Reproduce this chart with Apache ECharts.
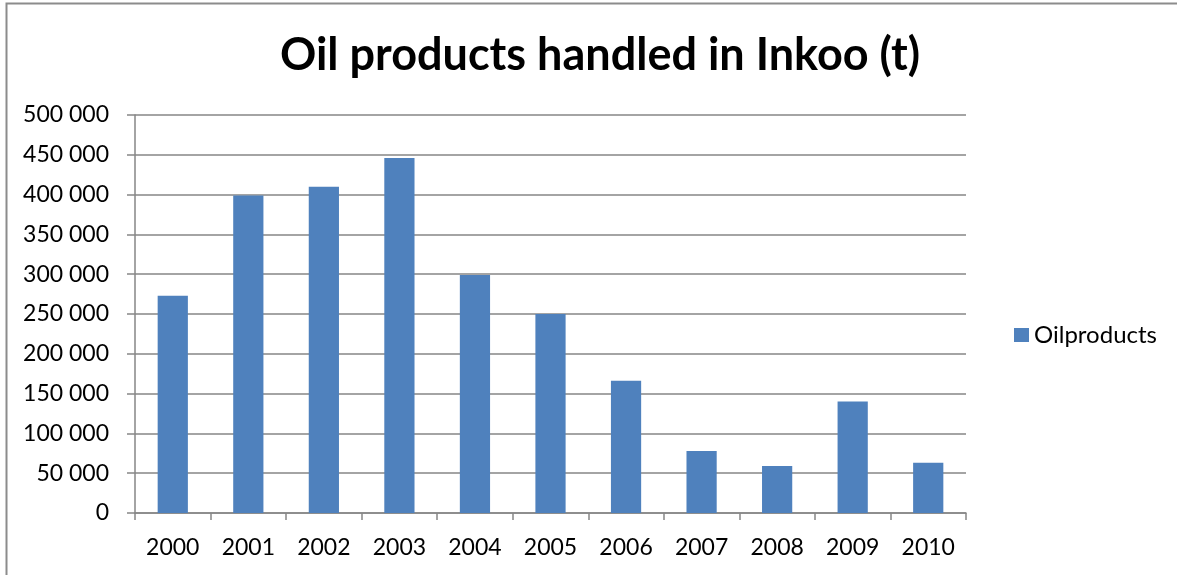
<!DOCTYPE html>
<html>
<head>
<meta charset="utf-8">
<script src="https://cdn.jsdelivr.net/npm/echarts@6/dist/echarts.min.js"></script>
<style>
  html, body { margin: 0; padding: 0; background: #fff; }
  #chart { width: 1177px; height: 575px; }
</style>
</head>
<body>
<div id="chart"></div>
<script>
// Annual tonnage of oil products handled at the port of Inkoo
const years = ['2000', '2001', '2002', '2003', '2004', '2005', '2006', '2007', '2008', '2009', '2010'];
const oilProducts = [273000, 399000, 410000, 446000, 299000, 250000, 166000, 78000, 59000, 140000, 63000];
const seriesName = 'Oilproducts';
const titleText = 'Oil products handled in Inkoo (t)';

const FONT = 'Lato, "Open Sans", sans-serif';
const AXIS_GREY = '#868686';

// Thousands separated with a space: 450 000
function formatThousands(v) {
  return String(v).replace(/\B(?=(\d{3})+(?!\d))/g, ' ');
}

const chart = echarts.init(document.getElementById('chart'), null, { renderer: 'canvas' });

chart.setOption({
  backgroundColor: '#ffffff',
  animation: false,
  title: {
    text: titleText,
    left: 595,
    textAlign: 'center',
    top: 28,
    textStyle: { fontFamily: FONT, fontWeight: 'bold', fontSize: 45, color: '#000' }
  },
  legend: {
    data: [seriesName],
    orient: 'vertical',
    left: 1009,
    top: 318,
    itemWidth: 15,
    itemHeight: 14,
    itemGap: 6,
    icon: 'rect',
    textStyle: { fontFamily: FONT, fontSize: 24, color: '#000' }
  },
  grid: { left: 135, right: 211, top: 115, bottom: 62, containLabel: false },
  xAxis: {
    type: 'category',
    data: years,
    boundaryGap: true,
    axisLine: { lineStyle: { color: AXIS_GREY, width: 1.5 } },
    axisTick: { show: true, length: 7, inside: false, lineStyle: { color: AXIS_GREY, width: 1.5 } },
    axisLabel: { fontFamily: FONT, fontSize: 23, color: '#000', margin: 23 }
  },
  yAxis: {
    type: 'value',
    min: 0,
    max: 500000,
    interval: 50000,
    axisLine: { show: true, lineStyle: { color: AXIS_GREY, width: 1.5 } },
    axisTick: { show: true, length: 8, inside: false, lineStyle: { color: AXIS_GREY, width: 1.5 } },
    splitLine: { show: true, lineStyle: { color: AXIS_GREY, width: 1.5 } },
    axisLabel: {
      fontFamily: FONT, fontSize: 23, color: '#000', margin: 26,
      formatter: formatThousands
    }
  },
  series: [{
    name: seriesName,
    type: 'bar',
    data: oilProducts,
    barWidth: '40%',
    itemStyle: { color: '#4F81BD' }
  }],
  graphic: [
    {
      type: 'polyline',
      shape: { points: [[6.5, 575], [6.5, 3.5], [1177, 3.5]] },
      style: { stroke: '#8c8c8c', lineWidth: 2, fill: null },
      silent: true
    }
  ]
});
</script>
</body>
</html>
